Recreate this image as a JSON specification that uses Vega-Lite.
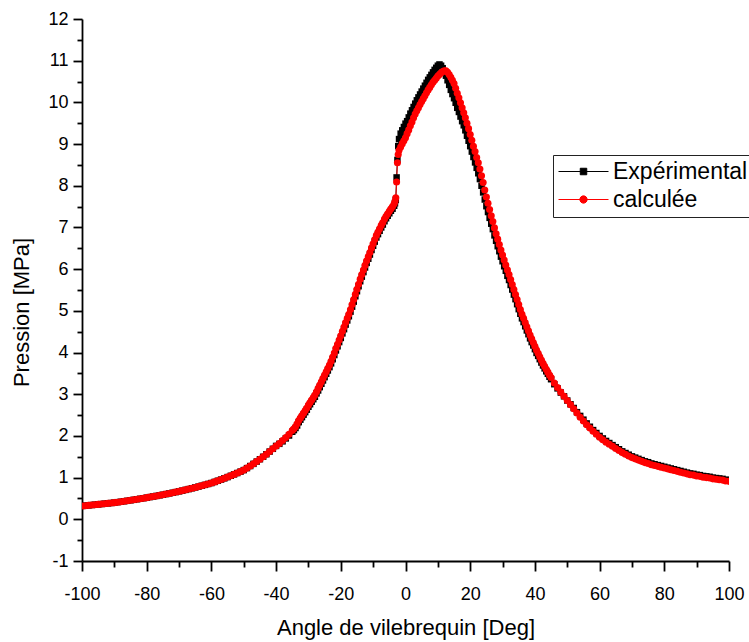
{
"$schema": "https://vega.github.io/schema/vega-lite/v6.json",
"width": 647, "height": 542,
"autosize": "none",
"padding": {"left": 82, "top": 19, "right": 20, "bottom": 81},
"background": "white",
"config": {"view": {"stroke": null}, "font": "Liberation Sans"},
"data": {"values": [
{"a":-100,"e":0.320,"c":0.320},{"a":-99,"e":0.327,"c":0.327},{"a":-98,"e":0.335,"c":0.335},{"a":-97,"e":0.342,"c":0.342},{"a":-96,"e":0.350,"c":0.350},
{"a":-95,"e":0.358,"c":0.358},{"a":-94,"e":0.366,"c":0.366},{"a":-93,"e":0.374,"c":0.374},{"a":-92,"e":0.383,"c":0.383},{"a":-91,"e":0.391,"c":0.391},
{"a":-90,"e":0.400,"c":0.400},{"a":-89,"e":0.411,"c":0.411},{"a":-88,"e":0.421,"c":0.421},{"a":-87,"e":0.433,"c":0.433},{"a":-86,"e":0.444,"c":0.444},
{"a":-85,"e":0.456,"c":0.456},{"a":-84,"e":0.468,"c":0.468},{"a":-83,"e":0.481,"c":0.481},{"a":-82,"e":0.493,"c":0.493},{"a":-81,"e":0.506,"c":0.506},
{"a":-80,"e":0.520,"c":0.520},{"a":-79,"e":0.533,"c":0.533},{"a":-78,"e":0.547,"c":0.547},{"a":-77,"e":0.561,"c":0.561},{"a":-76,"e":0.575,"c":0.575},
{"a":-75,"e":0.590,"c":0.590},{"a":-74,"e":0.605,"c":0.605},{"a":-73,"e":0.621,"c":0.621},{"a":-72,"e":0.637,"c":0.637},{"a":-71,"e":0.653,"c":0.653},
{"a":-70,"e":0.670,"c":0.670},{"a":-69,"e":0.688,"c":0.688},{"a":-68,"e":0.706,"c":0.706},{"a":-67,"e":0.725,"c":0.725},{"a":-66,"e":0.744,"c":0.744},
{"a":-65,"e":0.764,"c":0.764},{"a":-64,"e":0.784,"c":0.784},{"a":-63,"e":0.805,"c":0.805},{"a":-62,"e":0.826,"c":0.826},{"a":-61,"e":0.848,"c":0.848},
{"a":-60,"e":0.870,"c":0.870},{"a":-59,"e":0.897,"c":0.897},{"a":-58,"e":0.925,"c":0.925},{"a":-57,"e":0.953,"c":0.953},{"a":-56,"e":0.983,"c":0.983},
{"a":-55,"e":1.013,"c":1.013},{"a":-54,"e":1.044,"c":1.044},{"a":-53,"e":1.077,"c":1.077},{"a":-52,"e":1.110,"c":1.110},{"a":-51,"e":1.144,"c":1.144},
{"a":-50,"e":1.180,"c":1.180},{"a":-49,"e":1.228,"c":1.228},{"a":-48,"e":1.278,"c":1.278},{"a":-47,"e":1.330,"c":1.330},{"a":-46,"e":1.385,"c":1.385},
{"a":-45,"e":1.441,"c":1.441},{"a":-44,"e":1.500,"c":1.500},{"a":-43,"e":1.561,"c":1.561},{"a":-42,"e":1.625,"c":1.625},{"a":-41,"e":1.691,"c":1.691},
{"a":-40,"e":1.760,"c":1.760},
{"a":-39,"e":1.81,"c":1.82},{"a":-38,"e":1.87,"c":1.89},{"a":-37,"e":1.94,"c":1.96},{"a":-36,"e":2.01,"c":2.04},{"a":-35,"e":2.10,"c":2.13},
{"a":-34.5,"e":2.14,"c":2.17},{"a":-34,"e":2.19,"c":2.22},{"a":-33.5,"e":2.25,"c":2.29},{"a":-33,"e":2.33,"c":2.37},{"a":-32.5,"e":2.39,"c":2.43},
{"a":-32,"e":2.45,"c":2.49},{"a":-31.5,"e":2.51,"c":2.55},{"a":-31,"e":2.57,"c":2.61},{"a":-30.5,"e":2.63,"c":2.67},{"a":-30,"e":2.70,"c":2.74},
{"a":-29.5,"e":2.76,"c":2.80},{"a":-29,"e":2.82,"c":2.86},{"a":-28.5,"e":2.88,"c":2.92},{"a":-28,"e":2.94,"c":2.98},{"a":-27.5,"e":3.02,"c":3.06},
{"a":-27,"e":3.09,"c":3.14},{"a":-26.5,"e":3.17,"c":3.22},{"a":-26,"e":3.25,"c":3.30},{"a":-25.5,"e":3.33,"c":3.38},{"a":-25,"e":3.41,"c":3.46},
{"a":-24.5,"e":3.49,"c":3.54},{"a":-24,"e":3.57,"c":3.62},{"a":-23.5,"e":3.65,"c":3.70},{"a":-23,"e":3.74,"c":3.79},{"a":-22.5,"e":3.84,"c":3.89},
{"a":-22,"e":3.94,"c":3.99},{"a":-21.5,"e":4.05,"c":4.10},{"a":-21,"e":4.15,"c":4.20},{"a":-20.5,"e":4.25,"c":4.30},{"a":-20,"e":4.35,"c":4.40},
{"a":-19.5,"e":4.46,"c":4.51},{"a":-19,"e":4.56,"c":4.61},{"a":-18.5,"e":4.67,"c":4.72},{"a":-18,"e":4.77,"c":4.82},{"a":-17.5,"e":4.87,"c":4.92},
{"a":-17,"e":4.98,"c":5.03},{"a":-16.5,"e":5.10,"c":5.15},{"a":-16,"e":5.22,"c":5.27},{"a":-15.5,"e":5.35,"c":5.40},{"a":-15,"e":5.47,"c":5.52},
{"a":-14.5,"e":5.59,"c":5.64},{"a":-14,"e":5.71,"c":5.76},{"a":-13.5,"e":5.82,"c":5.87},{"a":-13,"e":5.93,"c":5.98},{"a":-12.5,"e":6.04,"c":6.09},
{"a":-12,"e":6.15,"c":6.20},{"a":-11.5,"e":6.25,"c":6.30},{"a":-11,"e":6.35,"c":6.40},{"a":-10.5,"e":6.46,"c":6.51},{"a":-10,"e":6.56,"c":6.61},
{"a":-9.5,"e":6.66,"c":6.71},{"a":-9,"e":6.76,"c":6.81},{"a":-8.5,"e":6.84,"c":6.89},{"a":-8,"e":6.92,"c":6.97},{"a":-7.5,"e":7.00,"c":7.05},
{"a":-7,"e":7.07,"c":7.12},{"a":-6.5,"e":7.15,"c":7.20},{"a":-6,"e":7.22,"c":7.27},{"a":-5.5,"e":7.28,"c":7.33},{"a":-5,"e":7.34,"c":7.39},
{"a":-4.5,"e":7.40,"c":7.45},{"a":-4,"e":7.45,"c":7.50},{"a":-3.5,"e":7.52,"c":7.57},{"a":-3.25,"e":7.58,"c":7.63},{"a":-3,"e":7.66,"c":7.71},
{"a":-2.75,"e":8.20,"c":8.09},{"a":-2.5,"e":8.62,"c":8.55},{"a":-2.25,"e":8.95,"c":8.75},{"a":-2,"e":9.12,"c":8.85},{"a":-1.5,"e":9.25,"c":8.93},
{"a":-1,"e":9.33,"c":9.01},{"a":-0.5,"e":9.41,"c":9.08},{"a":0,"e":9.49,"c":9.15},{"a":0.5,"e":9.55,"c":9.25},{"a":1,"e":9.64,"c":9.34},
{"a":1.5,"e":9.73,"c":9.44},{"a":2,"e":9.81,"c":9.53},{"a":2.5,"e":9.89,"c":9.63},{"a":3,"e":9.97,"c":9.72},{"a":3.5,"e":10.05,"c":9.80},
{"a":4,"e":10.12,"c":9.87},{"a":4.5,"e":10.19,"c":9.95},{"a":5,"e":10.26,"c":10.02},{"a":5.5,"e":10.33,"c":10.09},{"a":6,"e":10.40,"c":10.16},
{"a":6.5,"e":10.47,"c":10.23},{"a":7,"e":10.54,"c":10.30},{"a":7.5,"e":10.60,"c":10.36},{"a":8,"e":10.66,"c":10.42},{"a":8.5,"e":10.72,"c":10.48},
{"a":9,"e":10.78,"c":10.53},{"a":9.5,"e":10.83,"c":10.58},{"a":10,"e":10.88,"c":10.63},{"a":10.5,"e":10.91,"c":10.67},{"a":11,"e":10.88,"c":10.71},
{"a":11.5,"e":10.82,"c":10.74},{"a":12,"e":10.74,"c":10.76},{"a":12.5,"e":10.64,"c":10.76},{"a":13,"e":10.53,"c":10.72},{"a":13.5,"e":10.42,"c":10.67},
{"a":14,"e":10.30,"c":10.60},{"a":14.5,"e":10.20,"c":10.53},{"a":15,"e":10.10,"c":10.45},{"a":15.5,"e":9.99,"c":10.34},{"a":16,"e":9.87,"c":10.22},
{"a":16.5,"e":9.77,"c":10.11},{"a":17,"e":9.66,"c":9.99},{"a":17.5,"e":9.55,"c":9.87},{"a":18,"e":9.45,"c":9.75},{"a":18.5,"e":9.33,"c":9.63},
{"a":19,"e":9.20,"c":9.50},{"a":19.5,"e":9.08,"c":9.37},{"a":20,"e":8.95,"c":9.23},{"a":20.5,"e":8.82,"c":9.09},{"a":21,"e":8.69,"c":8.95},
{"a":21.5,"e":8.56,"c":8.82},{"a":22,"e":8.43,"c":8.68},{"a":22.5,"e":8.30,"c":8.55},{"a":23,"e":8.16,"c":8.40},{"a":23.5,"e":8.00,"c":8.24},
{"a":24,"e":7.84,"c":8.08},{"a":24.5,"e":7.67,"c":7.90},{"a":25,"e":7.51,"c":7.73},{"a":25.5,"e":7.37,"c":7.58},{"a":26,"e":7.23,"c":7.43},
{"a":26.5,"e":7.09,"c":7.28},{"a":27,"e":6.96,"c":7.14},{"a":27.5,"e":6.81,"c":6.99},{"a":28,"e":6.68,"c":6.85},{"a":28.5,"e":6.55,"c":6.72},
{"a":29,"e":6.43,"c":6.59},{"a":29.5,"e":6.30,"c":6.46},{"a":30,"e":6.19,"c":6.34},{"a":30.5,"e":6.07,"c":6.22},{"a":31,"e":5.96,"c":6.10},
{"a":31.5,"e":5.84,"c":5.98},{"a":32,"e":5.74,"c":5.87},{"a":32.5,"e":5.62,"c":5.75},{"a":33,"e":5.51,"c":5.63},{"a":33.5,"e":5.39,"c":5.51},
{"a":34,"e":5.28,"c":5.39},{"a":34.5,"e":5.16,"c":5.27},{"a":35,"e":5.04,"c":5.15},{"a":35.5,"e":4.93,"c":5.03},{"a":36,"e":4.82,"c":4.92},
{"a":36.5,"e":4.73,"c":4.82},{"a":37,"e":4.63,"c":4.72},{"a":37.5,"e":4.53,"c":4.62},{"a":38,"e":4.44,"c":4.52},{"a":38.5,"e":4.34,"c":4.42},
{"a":39,"e":4.25,"c":4.33},{"a":39.5,"e":4.17,"c":4.24},{"a":40,"e":4.08,"c":4.15},{"a":40.5,"e":3.99,"c":4.06},{"a":41,"e":3.92,"c":3.98},
{"a":41.5,"e":3.84,"c":3.90},{"a":42,"e":3.76,"c":3.82},{"a":42.5,"e":3.69,"c":3.74},{"a":43,"e":3.62,"c":3.67},{"a":43.5,"e":3.55,"c":3.60},
{"a":44,"e":3.49,"c":3.53},{"a":44.5,"e":3.42,"c":3.46},{"a":45,"e":3.36,"c":3.40},
{"a":46,"e":3.24,"c":3.27},{"a":47,"e":3.14,"c":3.16},{"a":48,"e":3.04,"c":3.05},{"a":49,"e":2.95,"c":2.95},{"a":50,"e":2.85,"c":2.85},
{"a":51,"e":2.76,"c":2.75},{"a":52,"e":2.67,"c":2.65},{"a":53,"e":2.57,"c":2.55},{"a":54,"e":2.48,"c":2.45},{"a":55,"e":2.39,"c":2.36},
{"a":56,"e":2.30,"c":2.27},{"a":57,"e":2.22,"c":2.19},{"a":58,"e":2.14,"c":2.11},{"a":59,"e":2.07,"c":2.04},{"a":60,"e":2.00,"c":1.97},
{"a":61,"e":1.94,"c":1.91},{"a":62,"e":1.88,"c":1.85},{"a":63,"e":1.83,"c":1.80},{"a":64,"e":1.78,"c":1.75},{"a":65,"e":1.73,"c":1.70},
{"a":66,"e":1.68,"c":1.65},{"a":67,"e":1.63,"c":1.60},{"a":68,"e":1.59,"c":1.56},{"a":69,"e":1.55,"c":1.52},{"a":70,"e":1.51,"c":1.48},
{"a":71,"e":1.48,"c":1.45},{"a":72,"e":1.45,"c":1.42},{"a":73,"e":1.42,"c":1.39},{"a":74,"e":1.39,"c":1.36},{"a":75,"e":1.37,"c":1.34},
{"a":76,"e":1.34,"c":1.31},{"a":77,"e":1.32,"c":1.29},{"a":78,"e":1.30,"c":1.27},{"a":79,"e":1.28,"c":1.25},{"a":80,"e":1.26,"c":1.23},
{"a":81,"e":1.24,"c":1.21},{"a":82,"e":1.22,"c":1.19},{"a":83,"e":1.20,"c":1.17},{"a":84,"e":1.18,"c":1.15},{"a":85,"e":1.16,"c":1.13},
{"a":86,"e":1.14,"c":1.11},{"a":87,"e":1.12,"c":1.09},{"a":88,"e":1.10,"c":1.07},{"a":89,"e":1.09,"c":1.06},{"a":90,"e":1.07,"c":1.04},
{"a":91,"e":1.06,"c":1.03},{"a":92,"e":1.04,"c":1.01},{"a":93,"e":1.03,"c":1.00},{"a":94,"e":1.02,"c":0.99},{"a":95,"e":1.00,"c":0.97},
{"a":96,"e":0.99,"c":0.96},{"a":97,"e":0.98,"c":0.95},{"a":98,"e":0.97,"c":0.94},{"a":99,"e":0.95,"c":0.92},{"a":100,"e":0.94,"c":0.91}
]},
"transform": [{"fold": ["e", "c"], "as": ["s", "p"]}],
"encoding": {
  "x": {"field": "a", "type": "quantitative",
    "scale": {"domain": [-100, 100], "nice": false, "zero": false},
    "axis": {"title": "Angle de vilebrequin [Deg]",
      "values": [-100,-90,-80,-70,-60,-50,-40,-30,-20,-10,0,10,20,30,40,50,60,70,80,90,100],
      "labelExpr": "datum.value % 20 === 0 ? '' + datum.value : ''",
      "tickSize": {"condition": {"test": "datum.value % 20 === 0", "value": 10}, "value": 6},
      "tickWidth": 1.8, "tickColor": "black", "domainWidth": 1.8, "domainColor": "black",
      "grid": false, "labelOverlap": false, "labelBound": false, "labelFlush": false,
      "labelFont": "Liberation Sans", "labelFontSize": 18, "labelColor": "black", "labelPadding": 14,
      "titleFont": "Liberation Sans", "titleFontSize": 22, "titleFontWeight": "normal", "titleColor": "black",
      "titleY": 73, "titleBaseline": "alphabetic"}},
  "y": {"field": "p", "type": "quantitative",
    "scale": {"domain": [-1, 12], "nice": false, "zero": false},
    "axis": {"title": "Pression [MPa]",
      "values": [-1,-0.5,0,0.5,1,1.5,2,2.5,3,3.5,4,4.5,5,5.5,6,6.5,7,7.5,8,8.5,9,9.5,10,10.5,11,11.5,12],
      "labelExpr": "datum.value % 1 === 0 ? '' + datum.value : ''",
      "tickSize": {"condition": {"test": "datum.value % 1 === 0", "value": 9}, "value": 5},
      "tickWidth": 1.8, "tickColor": "black", "domainWidth": 1.8, "domainColor": "black",
      "grid": false, "labelOverlap": false, "labelBound": false, "labelFlush": false,
      "labelFont": "Liberation Sans", "labelFontSize": 18, "labelColor": "black", "labelPadding": 5,
      "titleFont": "Liberation Sans", "titleFontSize": 22, "titleFontWeight": "normal", "titleColor": "black",
      "titleX": -54, "titleY": 293, "titleBaseline": "alphabetic", "titleAlign": "center", "titleAngle": -90}},
  "color": {"field": "s", "type": "nominal",
    "scale": {"domain": ["e", "c"], "range": ["#000000", "#ff0000"]},
    "legend": {"title": null, "orient": "none", "legendX": 471, "legendY": 136,
      "labelExpr": "datum.value == 'e' ? 'Expérimental' : 'calculée'",
      "labelFont": "Liberation Sans", "labelFontSize": 23, "labelColor": "black", "labelLimit": 400,
      "strokeColor": "#222222", "padding": 5, "symbolSize": 100, "symbolOffset": 14, "labelOffset": 18, "rowPadding": 4,
      "symbolStrokeWidth": 1,
      "encode": {"symbols": {"update": {
        "shape": {"signal": "datum.value == 'e' ? 'M-5,0H5M-0.65,-0.65H0.65V0.65H-0.65Z' : 'M-5,0H5M-0.73,0A0.73,0.73,0,1,1,0.73,0A0.73,0.73,0,1,1,-0.73,0Z'"},
        "fill": {"signal": "datum.value == 'e' ? '#000000' : '#ff0000'"},
        "stroke": {"signal": "datum.value == 'e' ? '#000000' : '#ff0000'"},
        "strokeWidth": {"value": 1},
        "size": {"value": 100},
        "opacity": {"value": 1}, "fillOpacity": {"value": 1}, "strokeOpacity": {"value": 1}}}}}}
},
"layer": [
  {"mark": {"type": "line", "strokeWidth": 1, "clip": true}},
  {"transform": [{"filter": "datum.s == 'e'"}],
   "mark": {"type": "point", "shape": "square", "filled": true, "opacity": 1, "size": 42, "clip": true}},
  {"transform": [{"filter": "datum.s == 'c'"}],
   "mark": {"type": "point", "shape": "circle", "filled": true, "opacity": 1, "size": 50, "clip": true}}
]
}
